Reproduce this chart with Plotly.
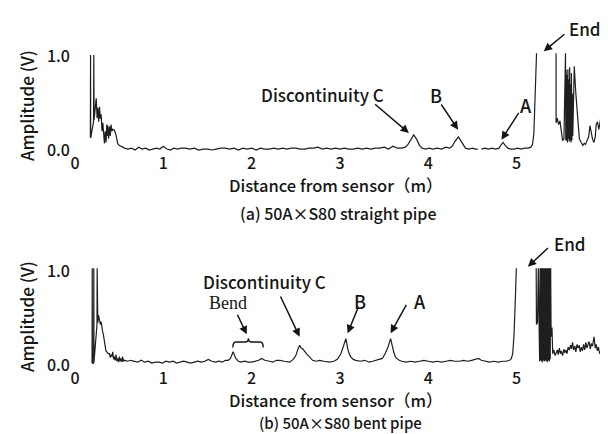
import plotly.graph_objects as go

# ---------------- data: (a) straight pipe ----------------
a_start_x = [0.174, 0.176, 0.178, 0.210, 0.213, 0.216, 0.240, 0.250, 0.258, 0.268, 0.277, 0.287, 0.296, 0.306, 0.315, 0.325, 0.333, 0.342, 0.352, 0.360, 0.365, 0.371, 0.380, 0.390, 0.400, 0.408, 0.418, 0.427, 0.446, 0.464, 0.483, 0.500, 0.520, 0.560]
a_start_y = [0.13, 1.01, 0.13, 0.30, 1.01, 0.32, 0.55, 0.34, 0.45, 0.30, 0.46, 0.33, 0.38, 0.20, 0.29, 0.08, 0.07, 0.20, 0.08, 0.27, 0.15, 0.26, 0.12, 0.25, 0.15, 0.27, 0.20, 0.22, 0.21, 0.16, 0.07, 0.05, 0.04, 0.02]

a_base_x = [0.60, 0.64, 0.68, 0.72, 0.76, 0.80, 0.84, 0.88, 0.92, 0.96, 1.00, 1.04, 1.08, 1.12, 1.16, 1.20,
            1.25, 1.30, 1.35, 1.40, 1.45, 1.50, 1.55, 1.60, 1.65, 1.70, 1.75, 1.80, 1.85, 1.90, 1.95, 2.00,
            2.05, 2.10, 2.15, 2.20, 2.25, 2.30, 2.35, 2.40, 2.45, 2.50, 2.55, 2.60, 2.65, 2.70, 2.75, 2.80,
            2.85, 2.90, 2.95, 3.00, 3.05, 3.10, 3.15, 3.20, 3.25, 3.30, 3.35, 3.40, 3.45, 3.50, 3.55, 3.60, 3.65]
a_base_y = [0.01, 0.02, 0.00, 0.03, 0.01, 0.02, 0.00, 0.01, 0.02, 0.01,
            0.04, 0.01, 0.00, 0.02, 0.01, 0.02, 0.02, 0.01, 0.02, 0.00,
            0.01, 0.01, 0.00, 0.01, 0.02, 0.02, 0.01, 0.02, 0.00, 0.02,
            0.01, 0.02, 0.00, 0.02, 0.01, 0.01, 0.02, 0.01, 0.02, 0.01,
            0.02, 0.02, 0.01, 0.01, 0.02, 0.02, 0.03, 0.01, 0.02, 0.01,
            0.02, 0.01, 0.02, 0.01, 0.01, 0.02, 0.01, 0.02, 0.01, 0.02,
            0.02, 0.03, 0.01, 0.04, 0.02]

a_peaks_x = [3.70, 3.74, 3.77, 3.80, 3.835, 3.87, 3.90, 3.93, 3.97, 4.01, 4.05, 4.10, 4.15, 4.20, 4.24, 4.27,
             4.30, 4.34, 4.37, 4.40, 4.42, 4.46, 4.50, 4.53, 4.56, 4.58, 4.60, 4.64, 4.68, 4.72, 4.76, 4.80,
             4.82, 4.846, 4.87, 4.90, 4.93, 4.97, 5.01, 5.05, 5.09, 5.13, 5.16, 5.18, 5.195, 5.205, 5.215, 5.225, 5.30]
a_peaks_y = [0.02, 0.03, 0.06, 0.11, 0.16, 0.11, 0.05, 0.02, 0.01, 0.02, 0.01, 0.02, 0.01, 0.03, 0.02, 0.04,
             0.09, 0.14, 0.09, 0.04, 0.02, 0.01, 0.02, 0.01, 0.01, None, 0.01, 0.02, 0.01, 0.02, 0.01, 0.02,
             0.05, 0.08, 0.05, 0.02, 0.01, 0.01, 0.02, 0.01, 0.02, 0.02, 0.03, 0.06, 0.18, 0.45, 0.80, 1.03, None]

a_end_x = [5.446, 5.446, 5.46, 5.475, 5.49, 5.505, 5.52, 5.535, 5.553, 5.556, 5.56, 5.565, 5.57, 5.575, 5.58, 5.585,
           5.59, 5.595, 5.60, 5.605, 5.61, 5.615, 5.62, 5.625, 5.63, 5.635, 5.652, 5.67, 5.69, 5.71, 5.73, 5.75,
           5.765, 5.78, 5.80, 5.815, 5.83, 5.845, 5.86, 5.875, 5.89, 5.90, 5.915, 5.93, 5.95, 5.965, 5.98, 6.00]
a_end_y = [1.03, 0.29, 0.34, 0.27, 0.31, 0.22, 0.10, 0.12, 1.03, 0.10, 0.85, 0.10, 0.80, 0.08, 0.86, 0.12,
           0.75, 0.09, 0.88, 0.10, 0.70, 0.08, 0.82, 0.10, 0.60, 0.15, 0.89, 0.60, 0.30, 0.12, 0.08, 0.05,
           0.07, 0.06, 0.11, 0.14, 0.26, 0.16, 0.11, 0.08, 0.14, 0.27, 0.30, 0.22, 0.33, 0.26, 0.36, 0.33]

# ---------------- data: (b) bent pipe ----------------
b_start_x = [0.193, 0.195, 0.197, 0.211, 0.213, 0.215, 0.249, 0.251, 0.258, 0.266, 0.277, 0.288, 0.296, 0.303, 0.312, 0.322,
             0.332, 0.341, 0.350, 0.360, 0.375, 0.390, 0.400, 0.408, 0.418, 0.427, 0.437, 0.446, 0.455, 0.464, 0.474, 0.483,
             0.493, 0.502, 0.511, 0.520, 0.530, 0.539, 0.548, 0.558, 0.596, 0.63, 0.67]
b_start_y = [0.02, 1.03, 0.02, 0.02, 1.03, 0.03, 0.43, 1.03, 0.45, 0.53, 0.48, 0.43, 0.46, 0.39, 0.36, 0.32,
             0.25, 0.18, 0.15, 0.14, 0.12, 0.12, 0.08, 0.11, 0.09, 0.14, 0.06, 0.09, 0.05, 0.11, 0.04, 0.07,
             0.03, 0.09, 0.04, 0.07, 0.03, 0.09, 0.04, 0.05, 0.04, 0.05, 0.04]

b_base_x = [0.71, 0.75, 0.79, 0.83, 0.87, 0.91, 0.95, 0.99, 1.03, 1.07, 1.11, 1.15, 1.19, 1.23, 1.27, 1.31,
            1.35, 1.39, 1.43, 1.47, 1.51, 1.55, 1.59, 1.63, 1.67, 1.70]
b_base_y = [0.03, 0.05, 0.03, 0.04, 0.02, 0.03, 0.03, 0.02, 0.04, 0.03, 0.04, 0.02, 0.03, 0.04, 0.03, 0.02,
            0.03, 0.04, 0.03, 0.04, 0.06, 0.04, 0.03, 0.04, 0.03, 0.05]

b_peaks_x = [1.735, 1.76, 1.79, 1.82, 1.85, 1.88, 1.92, 1.96, 2.00, 2.04, 2.08, 2.11, 2.15, 2.20, 2.24, 2.28,
             2.32, 2.37, 2.43, 2.47, 2.50, 2.525, 2.543, 2.56, 2.58, 2.62, 2.66, 2.69, 2.73, 2.77, 2.82, 2.88,
             2.93, 2.97, 3.01, 3.03, 3.05, 3.067, 3.086, 3.10, 3.12, 3.15, 3.18, 3.23, 3.28, 3.33, 3.37, 3.42,
             3.48, 3.51, 3.54, 3.573, 3.59, 3.61, 3.63, 3.67, 3.70, 3.75, 3.80, 3.85, 3.90, 3.95, 4.00, 4.05,
             4.10, 4.15, 4.20, 4.25, 4.30, 4.35, 4.40, 4.45, 4.49, 4.53, 4.566, 4.60, 4.64, 4.69, 4.74, 4.79,
             4.84, 4.88, 4.92, 4.94, 4.955, 4.97, 4.985, 4.996, 5.10]
b_peaks_y = [0.05, 0.07, 0.14, 0.07, 0.04, 0.03, 0.04, 0.03, 0.03, 0.04, 0.05, 0.07, 0.05, 0.04, 0.03, 0.05,
             0.05, 0.04, 0.03, 0.06, 0.10, 0.17, 0.21, 0.18, 0.17, 0.12, 0.08, 0.05, 0.04, 0.05, 0.04, 0.03,
             0.04, 0.06, 0.12, 0.17, 0.22, 0.28, 0.18, 0.13, 0.09, 0.06, 0.05, 0.04, 0.05, 0.03, 0.04, 0.05,
             0.07, 0.12, 0.18, 0.28, 0.19, 0.13, 0.08, 0.05, 0.04, 0.03, 0.04, 0.03, 0.04, 0.05, 0.04, 0.03,
             0.04, 0.03, 0.04, 0.05, 0.04, 0.04, 0.05, 0.04, 0.05, 0.06, 0.07, 0.05, 0.04, 0.03, 0.04, 0.03,
             0.04, 0.04, 0.05, 0.07, 0.12, 0.32, 0.70, 1.03, None]

b_end_x = [5.221, 5.224, 5.236, 5.245,
           5.26, 5.265, 5.27, 5.275, 5.28, 5.285, 5.29, 5.295, 5.30, 5.305, 5.31, 5.315, 5.32, 5.325,
           5.33, 5.335, 5.34, 5.345, 5.35, 5.355, 5.36, 5.365, 5.37, 5.375, 5.38, 5.385, 5.39]
b_end_y = [1.03, 0.43, 0.45, 1.03,
           0.04, 1.03, 0.05, 1.03, 0.04, 1.03, 0.03, 1.03, 0.05, 1.03, 0.04, 1.03, 0.04, 1.03,
           0.05, 1.03, 0.04, 1.03, 0.03, 1.03, 0.05, 1.03, 0.04, 1.03, 0.06, 1.03, 0.30]

b_tail_x = [5.40, 5.408, 5.42, 5.435, 5.446, 5.46, 5.47, 5.483, 5.495, 5.505, 5.52, 5.535, 5.545, 5.558, 5.57, 5.583,
            5.596, 5.61, 5.62, 5.633, 5.645, 5.658, 5.67, 5.683, 5.695, 5.708, 5.72, 5.733, 5.745, 5.758, 5.77, 5.783,
            5.795, 5.808, 5.82, 5.833, 5.845, 5.858, 5.87, 5.876, 5.89, 5.90, 5.914, 5.925, 5.94, 5.951, 5.965, 5.975,
            5.989, 6.00]
b_tail_y = [0.40, 0.12, 0.16, 0.10, 0.13, 0.16, 0.11, 0.18, 0.12, 0.15, 0.10, 0.17, 0.13, 0.16, 0.12, 0.19,
            0.16, 0.21, 0.17, 0.24, 0.16, 0.20, 0.14, 0.22, 0.18, 0.21, 0.14, 0.19, 0.15, 0.22, 0.16, 0.24,
            0.18, 0.21, 0.25, 0.17, 0.23, 0.20, 0.27, 0.30, 0.18, 0.22, 0.15, 0.19, 0.12, 0.14, 0.09, 0.16,
            0.10, 0.17]

x_ticks = [0, 1, 2, 3, 4, 5, 6]
x_tick_labels = ["0", "1", "2", "3", "4", "5", "6"]
y_ticks = [0, 1]
y_tick_labels = ["0.0", "1.0"]

xa = a_start_x + a_base_x + a_peaks_x + a_end_x
ya = a_start_y + a_base_y + a_peaks_y + a_end_y
xb = b_start_x + b_base_x + b_peaks_x + b_end_x + b_tail_x
yb = b_start_y + b_base_y + b_peaks_y + b_end_y + b_tail_y
for xs, ys in [(a_start_x, a_start_y), (a_base_x, a_base_y), (a_peaks_x, a_peaks_y), (a_end_x, a_end_y),
               (b_start_x, b_start_y), (b_base_x, b_base_y), (b_peaks_x, b_peaks_y), (b_end_x, b_end_y),
               (b_tail_x, b_tail_y)]:
    assert len(xs) == len(ys), (len(xs), len(ys))

# ---------------- layout helpers ----------------
W, H = 608, 434
FONT = "Noto Sans CJK JP"
INK = "#151515"
YR = [-0.02, 1.05]
PX_PER_V = 94.0
TOP_ZERO = 142
BOT_ZERO = 357


def ydom(zero_px):
    bottom = zero_px - YR[0] * PX_PER_V
    top = zero_px - YR[1] * PX_PER_V
    return [1 - bottom / H, 1 - top / H]


def px(x):
    return x / W


def py(y):
    return 1 - y / H


xdom = [67 / W, 597 / W]

fig = go.Figure()
line_style = dict(color="#1e1e1e", width=1.2)
fig.add_trace(go.Scatter(x=xa, y=ya, mode="lines", line=line_style, xaxis="x", yaxis="y",
                         showlegend=False, hoverinfo="skip"))
fig.add_trace(go.Scatter(x=xb, y=yb, mode="lines", line=line_style, xaxis="x2", yaxis="y2",
                         showlegend=False, hoverinfo="skip"))

axis_common = dict(showgrid=False, zeroline=False, showline=False, ticks="", automargin=False,
                   tickfont=dict(family=FONT, size=16, color=INK, weight=500))
y_extra = dict(ticklabelstandoff=4)
fig.update_layout(
    width=W, height=H,
    margin=dict(l=0, r=0, t=0, b=0, pad=0),
    paper_bgcolor="white", plot_bgcolor="white",
    font=dict(family=FONT, color=INK),
    xaxis=dict(domain=xdom, range=[0, 6], tickvals=x_ticks, ticktext=x_tick_labels, anchor="y", **axis_common),
    yaxis=dict(domain=ydom(TOP_ZERO), range=YR, tickvals=y_ticks, ticktext=y_tick_labels, anchor="x",
               **axis_common, **y_extra),
    xaxis2=dict(domain=xdom, range=[0, 6], tickvals=x_ticks, ticktext=x_tick_labels, anchor="y2", **axis_common),
    yaxis2=dict(domain=ydom(BOT_ZERO), range=YR, tickvals=y_ticks, ticktext=y_tick_labels, anchor="x2",
                **axis_common, **y_extra),
)

ann = []


def text(xp, yp, s, size=17, family=FONT, angle=0, weight=500):
    ann.append(dict(x=px(xp), y=py(yp), xref="paper", yref="paper", text=s, showarrow=False,
                    font=dict(family=family, size=size, color=INK, weight=weight), textangle=angle,
                    xanchor="center", yanchor="middle"))


def arrow(xr, yr, hx, hy, tx, ty):
    ann.append(dict(x=hx, y=hy, ax=tx, ay=ty, xref=xr, yref=yr, axref=xr, ayref=yr, text="",
                    showarrow=True, arrowhead=2, arrowsize=1.1, arrowwidth=1.5, arrowcolor=INK))


# axis titles and captions
text(18, 98, "Amplitude (V)", size=17, angle=-90)
text(18, 309, "Amplitude (V)", size=17, angle=-90)
text(328, 177, "Distance from sensor（m）", size=16.5)
text(328, 392, "Distance from sensor（m）", size=16.5)
text(330, 205, "(a) 50A×S80 straight pipe", size=16)
text(332, 414, "(b) 50A×S80 bent pipe", size=15)

# (a) labels
text(314, 87, "Discontinuity C", size=17)
text(428, 87, "B", size=18)
text(518, 97, "A", size=18)
text(577, 20, "End", size=17)
arrow("x", "y", 3.78, 0.18, 3.38, 0.50)
arrow("x", "y", 4.337, 0.216, 4.135, 0.50)
arrow("x", "y", 4.828, 0.11, 5.034, 0.41)
arrow("x", "y", 5.307, 1.05, 5.558, 1.245)

# (b) labels
text(256, 273, "Discontinuity C", size=17)
text(220, 295, "Bend", size=18, family="Liberation Serif", weight=400)
text(352, 293, "B", size=18)
text(412, 293, "A", size=18)
text(562, 235, "End", size=17)
arrow("x2", "y2", 2.543, 0.30, 2.318, 0.745)
arrow("x2", "y2", 1.944, 0.326, 1.831, 0.55)
arrow("x2", "y2", 3.086, 0.337, 3.217, 0.638)
arrow("x2", "y2", 3.573, 0.337, 3.76, 0.656)
arrow("x2", "y2", 5.127, 1.046, 5.371, 1.259)

fig.update_layout(annotations=ann)

# brace under "Bend"
fig.add_shape(type="path", xref="x2", yref="y2",
              path="M 1.787,0.185 Q 1.787,0.245 1.82,0.245 L 1.93,0.245 Q 1.963,0.245 1.963,0.285 "
                   "Q 1.963,0.245 1.996,0.245 L 2.098,0.245 Q 2.131,0.245 2.131,0.185",
              line=dict(color=INK, width=1.4))

fig.write_html("out.html")
